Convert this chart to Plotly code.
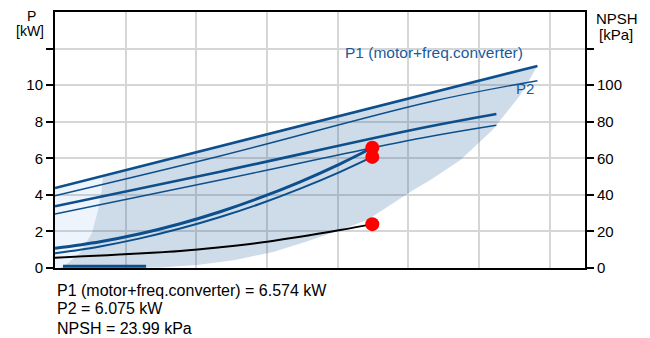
import plotly.graph_objects as go

# ---- data (x in flow units, left axis P [kW], right axis NPSH [kPa]) ----
p1_max_x = [0, 6.827]
p1_max_y = [4.375, 11.047]
p2_max_x = [0, 2.337, 5.312, 6.827]
p2_max_y = [3.954, 6.125, 9.094, 10.243]
p1_mid_x = [0, 2.337, 5.17, 6.246]
p1_mid_y = [3.373, 5.266, 7.64, 8.42]
p2_mid_x = [0, 2.337, 5.17, 6.246]
p2_mid_y = [2.953, 4.812, 7.093, 7.804]
op_x = [0, 0.637, 1.204, 1.771, 2.337, 2.904, 3.470, 4.037, 4.49]
p1_op_y = [1.077, 1.438, 1.876, 2.423, 3.079, 3.845, 4.714, 5.698, 6.574]
p2_op_y = [0.804, 1.181, 1.621, 2.157, 2.789, 3.516, 4.342, 5.261, 6.075]
npsh_x = [0, 1.77, 2.337, 3.003, 4.037, 4.49]
npsh_y = [5.63, 9.30, 11.32, 14.38, 20.78, 23.99]
base_x = [0.113, 1.289]
base_y = [0.1, 0.1]
duty_x = 4.49
duty_p1 = 6.574
duty_p2 = 6.075
duty_npsh = 23.99

area_x = [0.680, 6.827, 6.586, 6.190, 5.737, 5.312, 5.071, 4.745, 4.419, 4.037, 3.541,
          3.088, 2.550, 2.011, 1.487, 1.062, 0.071, 0.184, 0.354, 0.524, 0.609,
          0.661, 0.680]
area_y = [5.04, 11.047, 9.461, 7.547, 5.906, 4.812, 4.266, 3.445, 2.625, 2.078, 1.422,
          0.875, 0.4375, 0.164, 0.027, 0, 0, 0.273, 0.82, 1.915, 3.17,
          4.27, 5.04]
light_x = [0, 0, 0.680, 0.661, 0.609, 0.524, 0.354, 0.184, 0.071, 0]
light_y = [0, 4.375, 5.04, 4.27, 3.17, 1.915, 0.82, 0.273, 0, 0]

left_ticks = [0, 2, 4, 6, 8, 10, 12]
left_labels = ["0", "2", "4", "6", "8", "10", ""]
right_ticks = [0, 20, 40, 60, 80, 100, 120]
right_labels = ["0", "20", "40", "60", "80", "100", ""]

BLUE = "#0c4f8c"
FONT = "Liberation Sans, Arial, sans-serif"

fig = go.Figure()
fig.add_trace(go.Scatter(x=light_x, y=light_y, fill="toself", mode="none",
                         fillcolor="rgba(30,120,220,0.08)", hoverinfo="skip"))
fig.add_trace(go.Scatter(x=area_x, y=area_y, fill="toself", mode="none",
                         fillcolor="rgba(10,79,143,0.2)", hoverinfo="skip"))

def line(x, y, w, color=BLUE, axis="y", smooth=1.0):
    fig.add_trace(go.Scatter(x=x, y=y, mode="lines", yaxis=axis,
                             line=dict(color=color, width=w, shape="spline", smoothing=smooth)))

line(p1_max_x, p1_max_y, 2.6)
line(p2_max_x, p2_max_y, 1.4)
line(p1_mid_x, p1_mid_y, 2.6)
line(p2_mid_x, p2_mid_y, 1.4)
line(op_x, p1_op_y, 3)
line(op_x, p2_op_y, 2)
line(base_x, base_y, 3)
fig.add_trace(go.Scatter(x=[duty_x, duty_x], y=[duty_p1, duty_p2], mode="markers",
                         marker=dict(color="#ff0000", size=14)))
line(npsh_x, npsh_y, 2, color="#000000", axis="y2")
fig.add_trace(go.Scatter(x=[duty_x], y=[duty_npsh], mode="markers", yaxis="y2",
                         marker=dict(color="#ff0000", size=14)))

ann = []
def txt(x, y, s, xref="paper", yref="paper", xanchor="center", color="#000000", size=15):
    ann.append(dict(x=x, y=y, text=s, xref=xref, yref=yref, showarrow=False,
                    xanchor=xanchor, yanchor="middle",
                    font=dict(family=FONT, size=size, color=color)))

txt(-0.045, 0.985, "P", size=14)
txt(-0.047, 0.926, "[kW]", size=14)
txt(1.060, 0.973, "NPSH")
txt(1.058, 0.912, "[kPa]")
txt(4.08, 11.76, "P1 (motor+freq.converter)", xref="x", yref="y", xanchor="left",
    color="#1a5a9a", size=15.5)
txt(6.49, 9.84, "P2", xref="x", yref="y", xanchor="left", color="#1a5a9a", size=15)
txt(0, -0.086, "P1 (motor+freq.converter) = 6.574 kW", xanchor="left", size=16)
txt(0, -0.160, "P2 = 6.075 kW", xanchor="left", size=16)
txt(0, -0.236, "NPSH = 23.99 kPa", xanchor="left", size=16)

# page body has an 8px margin: compensate so the plot area lands at x 55-585, y 12-268
fig.update_layout(
    width=642, height=330,
    margin=dict(l=47, r=65, t=4, b=70, autoexpand=False),
    paper_bgcolor="white", plot_bgcolor="white",
    showlegend=False,
    font=dict(family=FONT, size=15, color="#000000"),
    annotations=ann,
    xaxis=dict(range=[0, 7.5], dtick=1, tick0=0, showticklabels=False, ticks="",
               showgrid=True, gridcolor="#d6d6d6", gridwidth=1.5, zeroline=False,
               showline=True, linecolor="#000000", linewidth=2, mirror=True, fixedrange=True),
    yaxis=dict(range=[0, 14], tickvals=left_ticks, ticktext=left_labels,
               ticks="outside", ticklen=7, tickwidth=2, tickcolor="#000000",
               showgrid=True, gridcolor="#d6d6d6", gridwidth=1.5, zeroline=False,
               showline=True, linecolor="#000000", linewidth=2,
               tickfont=dict(size=15)),
    yaxis2=dict(range=[0, 140], tickvals=right_ticks, ticktext=right_labels,
                overlaying="y", side="right", ticks="outside", ticklen=7, tickwidth=2,
                tickcolor="#000000", showgrid=False, zeroline=False,
                showline=True, linecolor="#000000", linewidth=2,
                tickfont=dict(size=15)),
)

fig.write_html("out.html")
